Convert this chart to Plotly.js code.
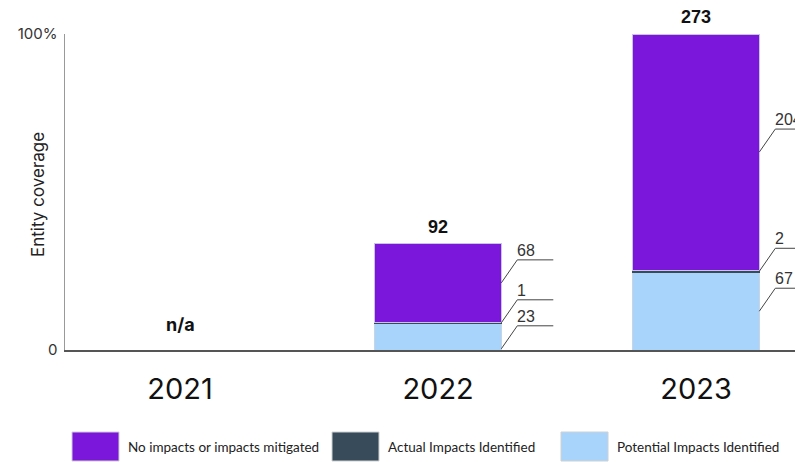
<!DOCTYPE html>
<html>
<head>
<meta charset="utf-8">
<script src="https://cdn.plot.ly/plotly-3.0.1.min.js"></script>
<style>
html,body{margin:0;padding:0;background:#fff;overflow:hidden;width:795px;height:462px;}
#chart{width:830px;height:462px;}
</style>
</head>
<body>
<div id="chart"></div>
<script>
// ---- data ----
const years = ['2021', '2022', '2023'];
const seriesNames = ['No impacts or impacts mitigated', 'Actual Impacts Identified', 'Potential Impacts Identified'];
const noImpacts = [null, 68, 204];
const actualImpacts = [null, 1, 2];
const potentialImpacts = [null, 23, 67];
const missingLabel = 'n/a';
const yTickLabels = ['0', '100%'];
const yTitle = 'Entity coverage';

// ---- styles ----
const colors = {none: '#7b16db', actual: '#374b5a', potential: '#a8d4fc'};
const W = 830, H = 462;
const M = {l: 65, r: 0, t: 34, b: 112};
const plotW = W - M.l - M.r, plotH = H - M.t - M.b;
const barW = 0.49;
const xRange = [-0.446, 2.519];

const totals = years.map((y, i) => {
  const vals = [potentialImpacts[i], actualImpacts[i], noImpacts[i]];
  if (vals.every(v => v == null)) return null;
  return vals.reduce((a, b) => a + (b || 0), 0);
});
const yMax = Math.max(...totals.filter(v => v != null));

const traces = [
  {name: seriesNames[2], key: 'potential', vals: potentialImpacts, line: '#c8d4e6'},
  {name: seriesNames[1], key: 'actual', vals: actualImpacts, line: colors.actual},
  {name: seriesNames[0], key: 'none', vals: noImpacts, line: '#c8c4e6'}
].map(s => ({
  type: 'bar', x: years, y: s.vals, name: s.name, width: barW,
  marker: {color: colors[s.key], line: {color: s.line, width: 1}},
  hoverinfo: 'skip', showlegend: false
}));

const shapes = [];
const annotations = [];
const yPx = v => M.t + (yMax - v) / yMax * plotH;
const LDX = 16, LDY = 23, LLEN = 52, GAP = 26;

years.forEach((yr, i) => {
  if (totals[i] == null) {
    annotations.push({x: i, y: 0, xref: 'x', yref: 'y', text: '<b>' + missingLabel + '</b>',
      showarrow: false, yanchor: 'middle', yshift: 26, xshift: 0,
      font: {family: 'Inter, Lato, sans-serif', size: 18, color: '#111'}});
    return;
  }
  annotations.push({x: i, y: totals[i], xref: 'x', yref: 'y', text: '<b>' + totals[i] + '</b>',
    showarrow: false, yanchor: 'bottom', yshift: 5,
    font: {family: 'Liberation Sans, Arial, sans-serif', size: 18, color: '#111'}});
  const segs = [potentialImpacts[i], actualImpacts[i], noImpacts[i]];
  let base = 0;
  const items = segs.map(v => { const mid = base + v / 2; base += v; return {v, mid}; });
  items.sort((a, b) => b.mid - a.mid);
  let prevEnd = -Infinity;
  items.forEach(it => {
    const start = yPx(it.mid);
    let end = start - LDY;
    let push = 0;
    if (end < prevEnd + GAP) { push = prevEnd + GAP - end; end += push; }
    prevEnd = end;
    const ax = i + barW / 2;
    shapes.push({type: 'path', xref: 'x', yref: 'y', xsizemode: 'pixel', ysizemode: 'pixel',
      xanchor: ax, yanchor: it.mid,
      path: `M 0 ${-push} L ${LDX} ${-push + LDY} L ${LLEN} ${-push + LDY}`,
      line: {color: '#444', width: 1}});
    annotations.push({x: ax, y: it.mid, xref: 'x', yref: 'y', text: String(it.v), showarrow: false,
      xanchor: 'left', yanchor: 'bottom', xshift: LDX - 2, yshift: LDY - push - 1,
      font: {family: 'Liberation Sans, Arial, sans-serif', size: 16, color: '#333'}});
  });
});

// ---- legend drawn as shapes ----
const pxX = p => (p - M.l) / plotW;
const pxY = p => (M.t + plotH - p) / plotH;
const legendItems = [
  {name: seriesNames[0], color: colors.none, x: 72},
  {name: seriesNames[1], color: colors.actual, x: 332},
  {name: seriesNames[2], color: colors.potential, x: 561}
];
legendItems.forEach(it => {
  shapes.push({type: 'rect', xref: 'paper', yref: 'paper', x0: pxX(it.x), x1: pxX(it.x + 47),
    y0: pxY(461), y1: pxY(432), fillcolor: it.color, line: {color: '#d0d0d0', width: 1}});
  annotations.push({xref: 'paper', yref: 'paper', x: pxX(it.x + 54), y: pxY(447), text: it.name,
    showarrow: false, xanchor: 'left', yanchor: 'middle',
    font: {family: 'Lato, Inter, sans-serif', size: 13.5, color: '#222'}});
});

// y-axis title placed as rotated text
annotations.push({xref: 'paper', yref: 'paper', x: pxX(38), y: pxY(195), text: yTitle,
  textangle: -90, showarrow: false, xanchor: 'center', yanchor: 'middle',
  font: {family: 'Inter, Lato, sans-serif', size: 17, color: '#222'}});

const layout = {
  width: W, height: H,
  margin: M,
  paper_bgcolor: '#fff', plot_bgcolor: '#fff',
  barmode: 'stack',
  showlegend: false,
  xaxis: {type: 'category', range: xRange, showline: true, linecolor: '#555', linewidth: 1.5,
    showgrid: false, zeroline: false, ticks: '', ticklabelstandoff: 13,
    tickfont: {family: 'Inter, Roboto, sans-serif', size: 29, color: '#111'}},
  yaxis: {range: [0, yMax], showline: true, linecolor: '#999', linewidth: 1.5,
    showgrid: false, zeroline: false, ticks: '', tickvals: [0, yMax], ticktext: yTickLabels,
    ticklabelstandoff: 3,
    tickfont: {family: 'Inter, Lato, sans-serif', size: 15, color: '#333'}},
  shapes, annotations
};
Plotly.newPlot('chart', traces, layout, {displayModeBar: false, staticPlot: true});
</script>
</body>
</html>
